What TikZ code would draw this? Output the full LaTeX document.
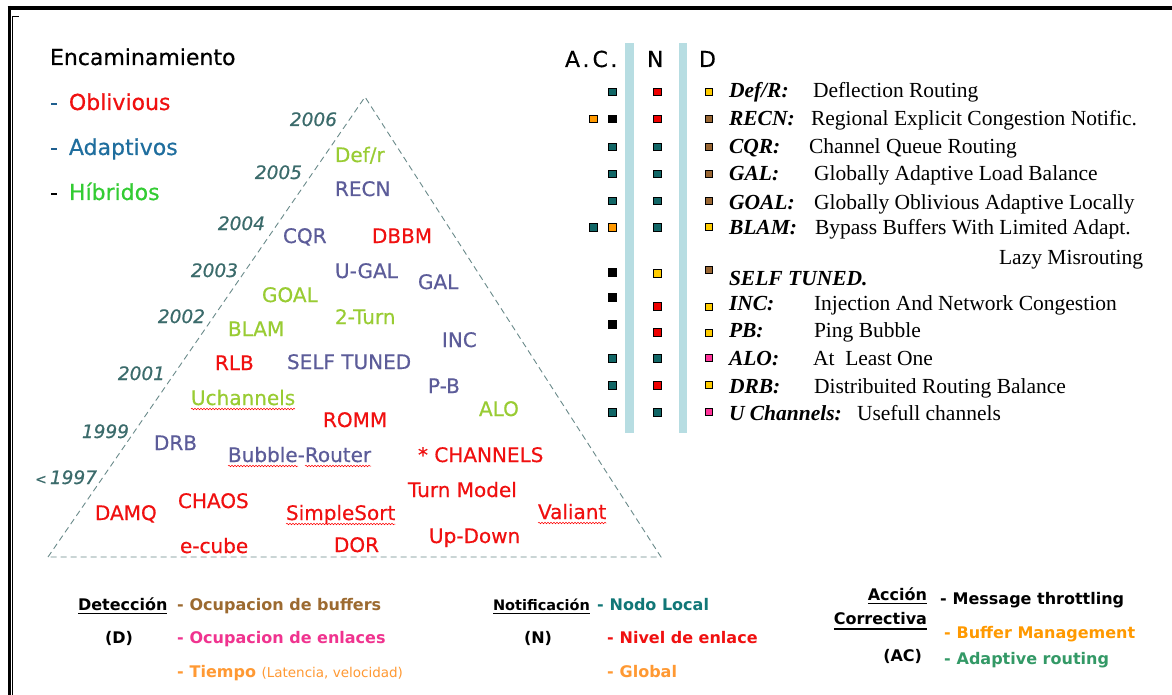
\documentclass[tikz,border=0pt]{standalone}
\usepackage{fontspec}
\setmainfont{DejaVu Sans}
\newfontfamily\handfont{DejaVu Sans}[FakeBold=0.5]
\newfontfamily\serifrm{Liberation Serif}
\usetikzlibrary{decorations.pathmorphing}

\definecolor{lgreen}{HTML}{99CC33}
\definecolor{slate}{HTML}{5C5C99}
\definecolor{hot}{HTML}{F01010}
\definecolor{yearc}{HTML}{3B6B6B}
\definecolor{adapt}{HTML}{1F6E9E}
\definecolor{hibr}{HTML}{33CC33}
\definecolor{dashc}{HTML}{1F5F8F}
\definecolor{barc}{HTML}{B7DDE2}
\definecolor{tealsq}{HTML}{116666}
\definecolor{redsq}{HTML}{EE0000}
\definecolor{yelsq}{HTML}{FFCC00}
\definecolor{brownsq}{HTML}{996633}
\definecolor{orangesq}{HTML}{FF9900}
\definecolor{pinksq}{HTML}{FF3399}
\definecolor{bufc}{HTML}{9C6A30}
\definecolor{enlc}{HTML}{F0338F}
\definecolor{timec}{HTML}{FF9933}
\definecolor{nodoc}{HTML}{117777}
\definecolor{mgmtc}{HTML}{FF9900}
\definecolor{routc}{HTML}{339966}
\definecolor{trianglec}{HTML}{6A8A8A}

\tikzset{
  lbl/.style={anchor=base west, font=\handfont\fontsize{20}{24}\selectfont},
  yr/.style={anchor=base east, text=yearc, font=\handfont\fontsize{18.5}{22}\selectfont\itshape},
  sq/.style={draw=black, line width=0.5pt, minimum size=7.5pt, inner sep=0pt},
  abbr/.style={anchor=base west, font=\serifrm\fontsize{21.5}{24}\selectfont\bfseries\itshape},
  desc/.style={anchor=base west, font=\serifrm\fontsize{21.5}{24}\selectfont},
  head/.style={anchor=base west, font=\handfont\fontsize{22}{26}\selectfont},
  ttl/.style={anchor=base west, font=\handfont\fontsize{22}{26}\selectfont},
  leg/.style={anchor=base west, font=\fontsize{16}{19}\selectfont\bfseries},
  wavy/.style={draw=red, line width=0.5pt, decorate, decoration={snake, amplitude=0.8pt, segment length=3pt}},
  uline/.style={draw=black, line width=1.1pt},
  tri/.style={draw=trianglec, line width=0.9pt, dash pattern=on 6pt off 4pt},
}

\begin{document}
\begin{tikzpicture}[x=1pt, y=-1pt, every node/.style={inner sep=0pt, outer sep=0pt}]
\useasboundingbox (0,0) rectangle (1172,695);
\fill[white] (0,0) rectangle (1172,695);

% page frame (top and left edges)
\draw[line width=4pt] (7.5,8) -- (1172,8);
\draw[line width=3pt] (9.5,6) -- (9.5,695);
\draw[line width=1pt] (12.8,16.5) -- (12.8,695);
\draw[line width=1pt] (12.3,16.5) -- (19,16.5);

% ---- routing families ----
\node[ttl] (enc) at (50,65) {Encaminamiento};
\node[ttl] (obl) at (50,110) {\textcolor{dashc}{-}\hspace{11pt}\textcolor{hot}{Oblivious}};
\node[ttl] (ada) at (50,155) {\textcolor{dashc}{-}\hspace{11pt}\textcolor{adapt}{Adaptivos}};
\node[ttl] (hib) at (50,200) {-\hspace{11pt}\textcolor{hibr}{Híbridos}};

% ---- time triangle ----
\coordinate (apex) at (365,97);
\coordinate (bl) at (48,557);
\coordinate (br) at (661,557);
\draw[tri] (bl) -- (apex) -- (br) -- cycle;

\node[yr] (y06) at (337,126) {2006};
\node[yr] (y05) at (302,179) {2005};
\node[yr] (y04) at (265,230) {2004};
\node[yr] (y03) at (238,277) {2003};
\node[yr] (y02) at (205,323) {2002};
\node[yr] (y01) at (165,380) {2001};
\node[yr] (y99) at (129,438) {1999};
\node[yr] (y97) at (97,484) {{\fontsize{14}{16}\selectfont<}\,1997};

\node[lbl, text=lgreen] (defr) at (335,162) {Def/r};
\node[lbl, text=slate] (recn) at (335,196) {RECN};
\node[lbl, text=slate] (cqr) at (283,243) {CQR};
\node[lbl, text=hot] (dbbm) at (372,243) {DBBM};
\node[lbl, text=slate] (ugal) at (335,278) {U-GAL};
\node[lbl, text=slate] (gal) at (418,289) {GAL};
\node[lbl, text=lgreen] (goal) at (262,302) {GOAL};
\node[lbl, text=lgreen] (turn2) at (335,324) {2-Turn};
\node[lbl, text=lgreen] (blam) at (228,336) {BLAM};
\node[lbl, text=slate] (inc) at (442,347) {INC};
\node[lbl, text=hot] (rlb) at (215,370) {RLB};
\node[lbl, text=slate] (self) at (287,369) {SELF TUNED};
\node[lbl, text=slate] (pb) at (428,393) {P-B};
\node[lbl, text=lgreen] (uch) at (191,405) {Uchannels};
\node[lbl, text=lgreen] (alo) at (479,416) {ALO};
\node[lbl, text=hot] (romm) at (323,427) {ROMM};
\node[lbl, text=slate] (drb) at (154,450) {DRB};
\node[lbl, text=slate] (bub) at (228,462) {Bubble-Router};
\node[lbl, text=hot] (chan) at (418,462) {* CHANNELS};
\node[lbl, text=hot] (tmod) at (408,497) {Turn Model};
\node[lbl, text=hot] (chaos) at (178,508) {CHAOS};
\node[lbl, text=hot] (damq) at (95,520) {DAMQ};
\node[lbl, text=hot] (ssort) at (286,520) {SimpleSort};
\node[lbl, text=hot] (val) at (538,519) {Valiant};
\node[lbl, text=hot] (updn) at (429,543) {Up-Down};
\node[lbl, text=hot] (ecube) at (180,553) {e-cube};
\node[lbl, text=hot] (dor) at (334,552) {DOR};

% spelling marks under some names
\draw[wavy] ([yshift=-4pt]uch.base west) -- ([yshift=-4pt]uch.base east);
\draw[wavy] ([yshift=-4pt]bub.base west) -- ([xshift=70pt,yshift=-4pt]bub.base west);
\draw[wavy] ([xshift=77pt,yshift=-4pt]bub.base west) -- ([yshift=-4pt]bub.base east);
\draw[wavy] ([yshift=-4pt]ssort.base west) -- ([yshift=-4pt]ssort.base east);
\draw[wavy] ([yshift=-4pt]val.base west) -- ([yshift=-4pt]val.base east);

% ---- classification table ----
\fill[barc] (625,43) rectangle (634,433);
\fill[barc] (679,43) rectangle (687,433);
\node[head] (hac) at (565,67) {A\hspace{2.5pt}.\hspace{3pt}C\hspace{2.5pt}.};
\node[head] (hn) at (647,67) {N};
\node[head] (hd) at (699,67) {D};

% corrective action column
\foreach \yy/\cc [count=\i] in {92/tealsq,119/black,147/tealsq,174/tealsq,201/tealsq,227/orangesq,272/black,297/black,324/black,358/tealsq,385/tealsq,412/tealsq}
  \node[sq, fill=\cc] (ac\i) at (612,\yy) {};
\node[sq, fill=orangesq] (acx1) at (593,119) {};
\node[sq, fill=tealsq] (acx2) at (593,227) {};
% notification column
\foreach \yy/\cc [count=\i] in {92/redsq,119/redsq,147/tealsq,174/tealsq,201/tealsq,227/tealsq,273/yelsq,306/redsq,332/redsq,358/tealsq,385/redsq,412/tealsq}
  \node[sq, fill=\cc] (nt\i) at (657,\yy) {};
% detection column
\foreach \yy/\cc [count=\i] in {92/yelsq,119/brownsq,147/brownsq,174/brownsq,201/brownsq,227/yelsq,270/brownsq,307/yelsq,333/yelsq,358/pinksq,385/yelsq,412/pinksq}
  \node[sq, fill=\cc, minimum size=7pt] (dt\i) at (709,\yy) {};

\node[abbr] (a1) at (729,98) {Def/R:};
\node[desc] (d1) at (813,98) {Deflection Routing};
\node[abbr] (a2) at (729,126) {RECN:};
\node[desc] (d2) at (811,126) {Regional Explicit Congestion Notific.};
\node[abbr] (a3) at (729,154) {CQR:};
\node[desc] (d3) at (809,154) {Channel Queue Routing};
\node[abbr] (a4) at (729,181) {GAL:};
\node[desc] (d4) at (814,181) {Globally Adaptive Load Balance};
\node[abbr] (a5) at (729,209) {GOAL:};
\node[desc] (d5) at (814,209) {Globally Oblivious Adaptive Locally};
\node[abbr] (a6) at (729,234) {BLAM:};
\node[desc] (d6) at (815,234) {Bypass Buffers With Limited Adapt.};
\node[desc, anchor=base east] (d6b) at (1143,264) {Lazy Misrouting};
\node[abbr] (a7) at (729,285) {SELF TUNED.};
\node[abbr] (a8) at (729,310) {INC:};
\node[desc] (d8) at (814,310) {Injection And Network Congestion};
\node[abbr] (a9) at (729,337) {PB:};
\node[desc] (d9) at (814,337) {Ping Bubble};
\node[abbr] (a10) at (729,365) {ALO:};
\node[desc] (d10) at (813,365) {At\hspace{0.5em}Least One};
\node[abbr] (a11) at (729,393) {DRB:};
\node[desc] (d11) at (814,393) {Distribuited Routing Balance};
\node[abbr] (a12) at (729,420) {U Channels:};
\node[desc] (d12) at (857,420) {Usefull channels};

% ---- legend: detection ----
\node[leg] (det) at (78,610) {Detección};
\draw[uline] ([yshift=-3.5pt]det.base west) -- ([yshift=-3.5pt]det.base east);
\node[leg] (detD) at (105,643) {(D)};
\node[leg, text=bufc] (det1) at (177,610) {-\hspace{6pt}Ocupacion de buffers};
\node[leg, text=enlc] (det2) at (177,643) {-\hspace{6pt}Ocupacion de enlaces};
\node[leg, text=timec] (det3) at (177,677) {-\hspace{6pt}Tiempo {\mdseries\fontsize{13.5}{15}\selectfont (Latencia, velocidad)}};

% ---- legend: notification ----
\node[leg, font=\fontsize{14.5}{17}\selectfont\bfseries] (notif) at (493,610) {Notificación};
\draw[uline] ([yshift=-3.5pt]notif.base west) -- ([yshift=-3.5pt]notif.base east);
\node[leg] (notN) at (524,643) {(N)};
\node[leg, text=nodoc] (not1) at (597,610) {-\hspace{6pt}Nodo Local};
\node[leg, text=hot] (not2) at (607,643) {-\hspace{6pt}Nivel de enlace};
\node[leg, text=timec] (not3) at (607,677) {-\hspace{6pt}Global};

% ---- legend: corrective action ----
\node[leg, anchor=base east] (acc1) at (927,600) {Acción};
\draw[uline] ([yshift=-3.5pt]acc1.base west) -- ([yshift=-3.5pt]acc1.base east);
\node[leg, anchor=base east] (acc2) at (927,624) {Correctiva};
\draw[uline] ([yshift=-5pt]acc2.base west) -- ([yshift=-5pt]acc2.base east);
\node[leg, anchor=base east] (accAC) at (922,661) {(AC)};
\node[leg] (acc3) at (940,604) {-\hspace{6pt}Message throttling};
\node[leg, text=mgmtc] (acc4) at (944,638) {-\hspace{6pt}Buffer Management};
\node[leg, text=routc] (acc5) at (944,664) {-\hspace{6pt}Adaptive routing};
\end{tikzpicture}
\end{document}
